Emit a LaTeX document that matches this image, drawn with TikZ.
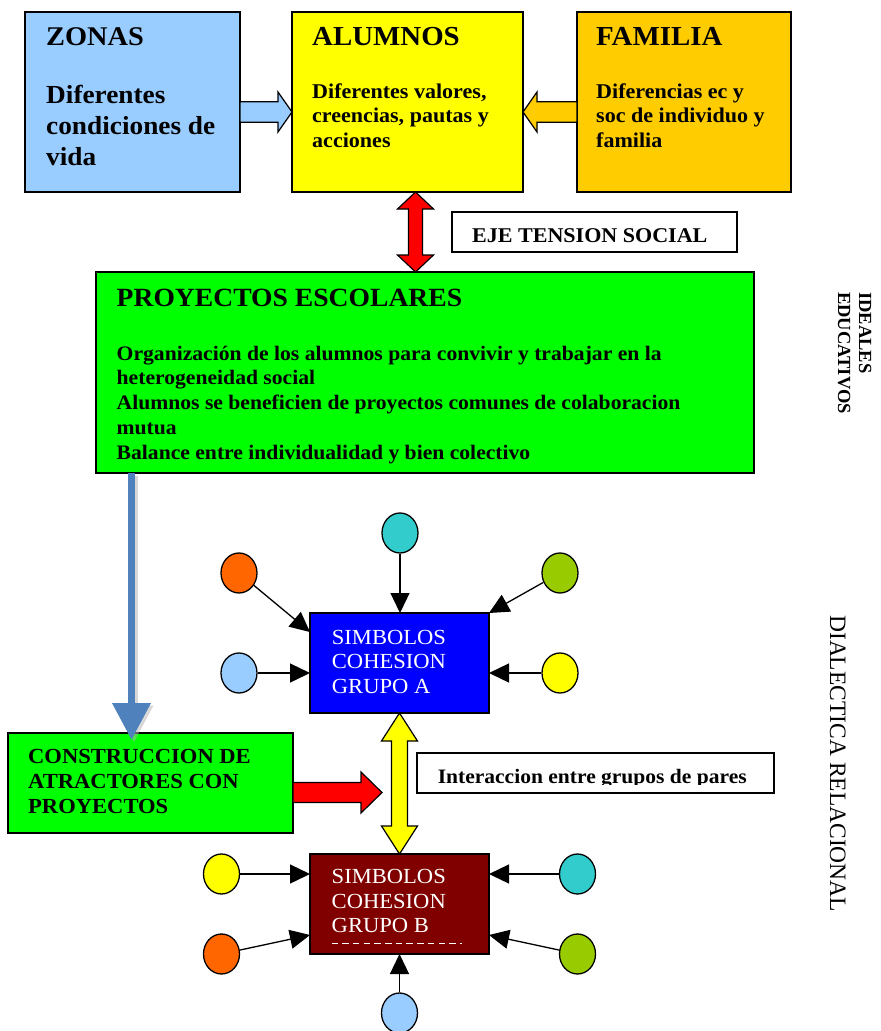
\documentclass[tikz,border=0pt]{standalone}
\usepackage{fontspec}
\setmainfont[FakeStretch=1.05]{Liberation Serif}
\newfontfamily\plainserif{Liberation Serif}
\usetikzlibrary{arrows.meta,calc,shapes.geometric}
\definecolor{czonas}{HTML}{99CCFF}
\definecolor{cfam}{HTML}{FFCC00}
\definecolor{cgreen}{HTML}{00FF00}
\definecolor{cblue}{HTML}{0000FF}
\definecolor{cmaroon}{HTML}{800000}
\definecolor{cteal}{HTML}{33CCCC}
\definecolor{corange}{HTML}{FF6600}
\definecolor{colive}{HTML}{99CC00}
\definecolor{cyel}{HTML}{FFFF00}
\definecolor{cred}{HTML}{FF0000}
\definecolor{csteel}{HTML}{4F81BD}
% vertical double block arrow: style, top tip, bottom tip, half shaft, half head, head length
\newcommand{\dblvarrow}[6]{%
  \draw[#1] (#2) -- ($(#2)+(#5,#6)$) -- ($(#2)+(#4,#6)$) -- ($(#3)+(#4,-#6)$) -- ($(#3)+(#5,-#6)$) -- (#3)
    -- ($(#3)+(-#5,-#6)$) -- ($(#3)+(-#4,-#6)$) -- ($(#2)+(-#4,#6)$) -- ($(#2)+(-#5,#6)$) -- cycle;}
% horizontal block arrow: style, tail centre, tip, half shaft, half head, signed head length
\newcommand{\blkharrow}[6]{%
  \draw[#1] ($(#2)+(0,-#4)$) -- ($(#3)+({-1*(#6)},-#4)$) -- ($(#3)+({-1*(#6)},-#5)$) -- (#3)
    -- ($(#3)+({-1*(#6)},#5)$) -- ($(#3)+({-1*(#6)},#4)$) -- ($(#2)+(0,#4)$) -- cycle;}
\begin{document}
\begin{tikzpicture}[x=1pt,y=-1pt,
  box/.style={draw=black, line width=1.5pt, rectangle, inner sep=0pt, outer sep=0pt, anchor=north west},
  txt/.style={inner sep=0pt, anchor=base west, align=left},
  circ/.style={ellipse, draw=black, line width=1.3pt, minimum width=36pt, minimum height=40pt, inner sep=0pt},
  arr/.style={line width=1.3pt, -{Triangle[length=20pt,width=19pt]}},
  blk/.style={draw=black, line width=1.2pt, line join=miter}]
\useasboundingbox (0,0) rectangle (881,1031);
% boxes
\node[box, fill=czonas, minimum width=215pt, minimum height=180pt] (zonas) at (25,12) {};
\node[box, fill=cyel, minimum width=231pt, minimum height=180pt] (alum) at (292,12) {};
\node[box, fill=cfam, minimum width=214pt, minimum height=180pt] (fam) at (577,12) {};
\node[box, fill=white, minimum width=285pt, minimum height=40pt] (eje) at (452,212) {};
\node[box, fill=cgreen, minimum width=658pt, minimum height=201pt] (proy) at (96,272) {};
\node[box, fill=cgreen, minimum width=285pt, minimum height=100pt] (cons) at (8,733) {};
\node[box, fill=white, minimum width=357pt, minimum height=40pt] (inter) at (417,753) {};
\node[box, fill=cblue, minimum width=179pt, minimum height=100pt] (grpA) at (310,613) {};
\node[box, fill=cmaroon, minimum width=179pt, minimum height=100pt] (grpB) at (310,854) {};
% block arrows
\coordinate (zt) at ($(zonas.east)+(0,10)$);
\coordinate (zh) at (zt -| alum.west);
\blkharrow{blk, fill=czonas}{zt}{zh}{10.3}{20}{14}
\coordinate (ft) at ($(fam.west)+(0,10)$);
\coordinate (fh) at (ft -| alum.east);
\blkharrow{blk, fill=cfam}{ft}{fh}{10.3}{20}{-14}
\coordinate (rt) at ($(alum.south)+(8,0)$);
\coordinate (rb) at (rt |- proy.north);
\dblvarrow{blk, fill=cred}{rt}{rb}{7}{18}{17}
\dblvarrow{blk, fill=cyel}{grpA.south}{grpB.north}{8}{18}{28}
\coordinate (ct) at ($(cons.east)+(0,9.5)$);
\coordinate (ch) at ($(ct)+(89,0)$);
\blkharrow{blk, fill=cred}{ct}{ch}{10}{20.5}{21}
% steel blue arrow
\coordinate (bst) at ($(proy.south west)+(35.5,0)$);
\coordinate (bend) at ($(bst |- cons.north)+(0,7)$);
\draw[line width=7pt, draw=black!30, opacity=.5, -{Triangle[length=37pt,width=37pt]}] ($(bst)+(2.5,2.5)$) -- ($(bend)+(2.5,2.5)$);
\draw[line width=7pt, draw=csteel, -{Triangle[length=37pt,width=37pt]}, fill=csteel] (bst) -- (bend);
% circles group A
\node[circ, fill=cteal] (tA) at (400,533) {};
\node[circ, fill=corange] (oA) at (239,573) {};
\node[circ, fill=colive] (gA) at (560,573) {};
\node[circ, fill=czonas] (lA) at (239,673) {};
\node[circ, fill=cyel] (yA) at (560,673) {};
\coordinate (aNW) at ($(grpA.north west)+(0,19)$);
\draw[arr] (tA) -- (tA |- grpA.north);
\draw[arr] (oA) -- (aNW);
\draw[arr] (gA) -- (grpA.north east);
\draw[arr] (lA) -- (lA -| grpA.west);
\draw[arr] (yA) -- (yA -| grpA.east);
% circles group B
\node[circ, fill=cyel] (yB) at (221.5,874) {};
\node[circ, fill=cteal] (tB) at (577.5,874) {};
\node[circ, fill=corange] (oB) at (221.5,954) {};
\node[circ, fill=colive] (gB) at (577.5,954) {};
\node[circ, fill=czonas] (lB) at (399.5,1013) {};
\coordinate (bSW) at ($(grpB.south west)+(0,-19)$);
\coordinate (bSE) at ($(grpB.south east)+(0,-19)$);
\draw[arr] (yB) -- (yB -| grpB.west);
\draw[arr] (tB) -- (tB -| grpB.east);
\draw[arr] (oB) -- (bSW);
\draw[arr] (gB) -- (bSE);
\draw[arr] (lB) -- (lB |- grpB.south);
% texts (base anchor = baseline of the last line)
\node[txt, font=\bfseries\fontsize{27}{31}\selectfont] (t1) at (46,45) {ZONAS};
\node[txt, font=\bfseries\fontsize{26}{31}\selectfont] (t2) at (46,165) {Diferentes\\condiciones de\\vida};
\node[txt, font=\bfseries\fontsize{27.5}{31}\selectfont] (t3) at (312,45) {ALUMNOS};
\node[txt, font=\bfseries\fontsize{21}{24.8}\selectfont] (t4) at (312,147.6) {Diferentes valores,\\creencias, pautas y\\acciones};
\node[txt, font=\bfseries\fontsize{27.5}{31}\selectfont] (t5) at (596,45) {FAMILIA};
\node[txt, font=\bfseries\fontsize{21}{24.8}\selectfont] (t6) at (596,147.6) {Diferencias ec y\\soc de individuo y\\familia};
\node[txt, font=\bfseries\fontsize{21}{25}\selectfont] (t7) at (472,242) {EJE TENSION SOCIAL};
\node[txt, font=\bfseries\fontsize{26.3}{31}\selectfont] (t8) at (116.5,306) {PROYECTOS ESCOLARES};
\node[txt, font=\bfseries\fontsize{20.6}{24.75}\selectfont] (t9) at (116.5,459) {Organización de los alumnos para convivir y trabajar en la\\heterogeneidad social\\Alumnos se beneficien de proyectos comunes de colaboracion\\mutua\\Balance entre individualidad y bien colectivo};
\node[txt, font=\bfseries\fontsize{21.5}{25}\selectfont] (t10) at (28,813) {CONSTRUCCION DE\\ATRACTORES CON\\PROYECTOS};
\begin{scope}
\clip (inter.north west) rectangle ($(inter.east)+(0,11)$);
\node[txt, font=\bfseries\fontsize{20.5}{25}\selectfont] (t11) at (437.6,783) {Interaccion entre grupos de pares};
\end{scope}
\node[txt, text=white, font=\fontsize{21.5}{24.5}\selectfont] (t12) at (331.7,693) {SIMBOLOS\\COHESION\\GRUPO A};
\node[txt, text=white, font=\fontsize{21.5}{24.7}\selectfont] (t13) at (331.5,932.7) {SIMBOLOS\\COHESION\\GRUPO B};
\draw[white, line width=0.9pt, dash pattern=on 6.5pt off 4.2pt] ($(grpB.south west)+(21.5,-11)$) -- ($(grpB.south west)+(152,-11)$);
\node[txt, rotate=-90, font=\plainserif\bfseries\fontsize{18.5}{21}\selectfont] (t14) at (838,292) {IDEALES\\EDUCATIVOS};
\node[txt, rotate=-90, font=\plainserif\fontsize{23.5}{28}\selectfont] (t15) at (830,615) {DIALECTICA RELACIONAL};
\end{tikzpicture}
\end{document}
